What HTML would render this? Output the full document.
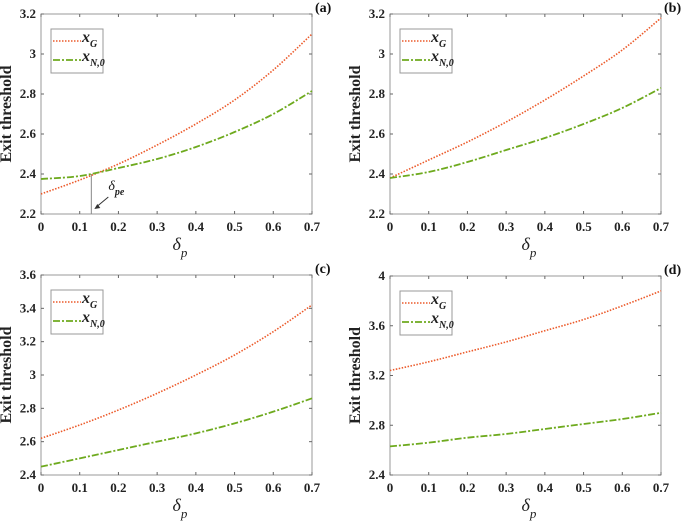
<!DOCTYPE html>
<html><head><meta charset="utf-8"><style>
body{margin:0;background:#fff;}
svg{display:block;}
svg text{font-family:"Liberation Serif","Times New Roman",serif;}
.tk{font-size:13px;font-weight:bold;fill:#222;}
</style></head><body>
<svg id="s" width="685" height="524" viewBox="0 0 685 524"></svg>
<script>
const xs = [0,0.1,0.2,0.3,0.4,0.5,0.6,0.7];
const xTicks = [0,0.1,0.2,0.3,0.4,0.5,0.6,0.7];
const xTickLabels = ["0","0.1","0.2","0.3","0.4","0.5","0.6","0.7"];
const gA = [2.30,2.37,2.45,2.545,2.65,2.77,2.92,3.10];
const nA = [2.375,2.39,2.43,2.475,2.535,2.61,2.70,2.815];
const gB = [2.38,2.47,2.56,2.66,2.77,2.89,3.02,3.18];
const nB = [2.38,2.41,2.46,2.52,2.58,2.65,2.73,2.83];
const gC = [2.62,2.70,2.79,2.89,3.00,3.12,3.26,3.42];
const nC = [2.45,2.50,2.55,2.60,2.65,2.71,2.78,2.86];
const gD = [3.24,3.31,3.39,3.47,3.56,3.65,3.76,3.88];
const nD = [2.63,2.66,2.70,2.73,2.77,2.81,2.85,2.90];
const ticksAB = [2.2,2.4,2.6,2.8,3.0,3.2];
const labelsAB = ["2.2","2.4","2.6","2.8","3","3.2"];
const ticksC = [2.4,2.6,2.8,3.0,3.2,3.4,3.6];
const labelsC = ["2.4","2.6","2.8","3","3.2","3.4","3.6"];
const ticksD = [2.4,2.8,3.2,3.6,4.0];
const labelsD = ["2.4","2.8","3.2","3.6","4"];
const crossX = 0.13, crossY = 2.40;

const NS="http://www.w3.org/2000/svg";
const svg=document.getElementById('s');
const FF='"Liberation Serif", "Times New Roman", serif';
function mk(tag,attrs,parent,text){const e=document.createElementNS(NS,tag);for(const k in attrs)e.setAttribute(k,attrs[k]);if(tag==='text')e.setAttribute('font-family',FF);if(text!==undefined)e.textContent=text;(parent||svg).appendChild(e);return e;}

const panels=[
 {id:'a',L:41,R:312,T:14,B:214,ymin:2.2,ymax:3.2,ticks:ticksAB,labels:labelsAB,g:gA,n:nA},
 {id:'b',L:390,R:661,T:14,B:214,ymin:2.2,ymax:3.2,ticks:ticksAB,labels:labelsAB,g:gB,n:nB},
 {id:'c',L:41,R:312,T:275,B:475,ymin:2.4,ymax:3.6,ticks:ticksC,labels:labelsC,g:gC,n:nC},
 {id:'d',L:390,R:661,T:276,B:475,ymin:2.4,ymax:4.0,ticks:ticksD,labels:labelsD,g:gD,n:nD}
];
function pathFrom(X,Y,xsArr,ys){
  const p=xsArr.map((x,i)=>[X(x),Y(ys[i])]);
  let d=`M${p[0][0]},${p[0][1]}`;
  for(let i=0;i<p.length-1;i++){
    const p0=p[Math.max(i-1,0)],p1=p[i],p2=p[i+1],p3=p[Math.min(i+2,p.length-1)];
    const c1=[p1[0]+(p2[0]-p0[0])/6,p1[1]+(p2[1]-p0[1])/6];
    const c2=[p2[0]-(p3[0]-p1[0])/6,p2[1]-(p3[1]-p1[1])/6];
    d+=` C${c1[0]},${c1[1]} ${c2[0]},${c2[1]} ${p2[0]},${p2[1]}`;
  }
  return d;
}
panels.forEach(P=>{
  const g=mk('g',{});
  
  
  const X=v=>P.L+(v-0)/(0.7)*(P.R-P.L);
  const Y=v=>P.B-(v-P.ymin)/(P.ymax-P.ymin)*(P.B-P.T);
  const box=mk('rect',{x:P.L,y:P.T,width:P.R-P.L,height:P.B-P.T,fill:'none',stroke:'#999','stroke-width':1},g);
  
  
  xTicks.forEach((t,i)=>{
    const x=X(t);
    mk('line',{x1:x,y1:P.B,x2:x,y2:P.B-3,stroke:'#666'},g);
    mk('line',{x1:x,y1:P.T,x2:x,y2:P.T+3,stroke:'#666'},g);
    const tl=mk('text',{x:x,y:P.B+17,'text-anchor':'middle',class:'tk'},g,xTickLabels[i]);
    
    
  });
  P.ticks.forEach((t,i)=>{
    const y=Y(t);
    mk('line',{x1:P.L,y1:y,x2:P.L+3,y2:y,stroke:'#666'},g);
    mk('line',{x1:P.R,y1:y,x2:P.R-3,y2:y,stroke:'#666'},g);
    const tl=mk('text',{x:P.L-5,y:y+4,'text-anchor':'end',class:'tk'},g,P.labels[i]);
    
    
  });
  const yl=mk('text',{x:0,y:0,transform:`translate(${P.L-30},${(P.T+P.B)/2}) rotate(-90)`,'text-anchor':'middle','font-size':'16','font-weight':'bold',fill:'#222'},g,'Exit threshold');
  
  
  const xl=mk('text',{x:(P.L+P.R)/2-4,y:P.B+36,'font-size':'18','font-style':'italic',fill:'#222'},g);
  
  
  mk('tspan',{},xl,'δ');
  mk('tspan',{dy:'7','font-size':'13'},xl,'p');
  const pl=mk('text',{x:P.R+3,y:P.T-2,'font-size':'14','font-weight':'bold',fill:'#111'},g,'('+P.id+')');
  
  
  if(P.id==='a'){
    const cx=X(crossX);
    const vl=mk('line',{x1:cx,y1:Y(crossY),x2:cx,y2:P.B,stroke:'#888','stroke-width':1},g);
    
    
    mk('line',{x1:cx+17,y1:Y(crossY)+23,x2:cx+5,y2:Y(crossY)+33,stroke:'#333'},g);
    mk('path',{d:`M${cx+3},${Y(crossY)+35} l6,-1 l-3,-4 z`,fill:'#333'},g);
    const al=mk('text',{x:cx+17,y:Y(crossY)+16,'font-size':'14','font-style':'italic',fill:'#222'},g);
    
    
    mk('tspan',{},al,'δ');
    mk('tspan',{dy:'5','font-size':'10','font-weight':'bold'},al,'pe');
  }
  const lg=mk('path',{d:pathFrom(X,Y,xs,P.g),fill:'none',stroke:'#ec5a2a','stroke-width':1.6,'stroke-dasharray':'1.5,1.5'},g);
  
  
  const ln=mk('path',{d:pathFrom(X,Y,xs,P.n),fill:'none',stroke:'#6eaa1e','stroke-width':1.8,'stroke-dasharray':'7,2,2,2'},g);
  
  
  const lx=P.L+10, ly=P.T+15;
  const leg=mk('g',{},g);
  
  
  mk('rect',{x:lx,y:ly,width:52,height:44,fill:'#fff',stroke:'#999'},leg);
  mk('line',{x1:lx+2,y1:ly+12,x2:lx+30,y2:ly+12,stroke:'#ec5a2a','stroke-width':1.6,'stroke-dasharray':'1.5,1.5'},leg);
  mk('line',{x1:lx+2,y1:ly+31,x2:lx+30,y2:ly+31,stroke:'#6eaa1e','stroke-width':1.8,'stroke-dasharray':'7,2,2,2'},leg);
  const t1=mk('text',{x:lx+31,y:ly+13,'font-size':'16','font-style':'italic','font-weight':'bold',fill:'#222'},leg);
  
  
  mk('tspan',{},t1,'x');
  mk('tspan',{dy:'5','font-size':'10'},t1,'G');
  const t2=mk('text',{x:lx+31,y:ly+32,'font-size':'16','font-style':'italic','font-weight':'bold',fill:'#222'},leg);
  
  
  mk('tspan',{},t2,'x');
  mk('tspan',{dy:'5','font-size':'10'},t2,'N,0');
});
</script>
</body></html>
